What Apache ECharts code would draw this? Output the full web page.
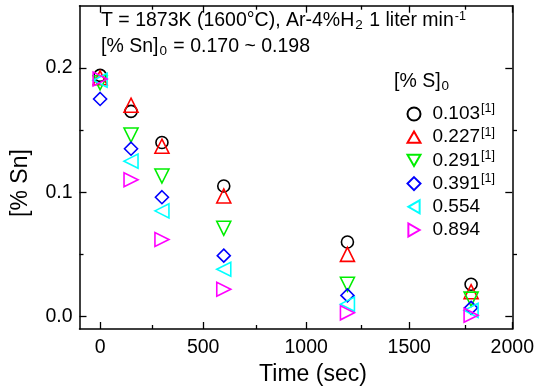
<!DOCTYPE html>
<html><head><meta charset="utf-8">
<script src="https://cdn.jsdelivr.net/npm/echarts@6/dist/echarts.min.js"></script>
<style>html,body{margin:0;padding:0;background:#fff}#c{width:537px;height:392px}</style>
</head><body><div id="c"></div>
<script>
var times = [0, 150, 300, 600, 1200, 1800];
var s0103 = [0.194, 0.165, 0.140, 0.105, 0.060, 0.026];
var s0227 = [0.192, 0.170, 0.137, 0.097, 0.050, 0.020];
var s0291 = [0.188, 0.146, 0.113, 0.071, 0.026, 0.014];
var s0391 = [0.175, 0.135, 0.096, 0.049, 0.017, 0.007];
var s0554 = [0.190, 0.125, 0.085, 0.038, 0.010, 0.005];
var s0894 = [0.191, 0.110, 0.062, 0.022, 0.003, 0.001];
var seriesNames = ['0.103', '0.227', '0.291', '0.391', '0.554', '0.894'];
var refMark = [true, true, true, true, false, false];
var xMajor = [0, 500, 1000, 1500, 2000];
var xMinor = [250, 750, 1250, 1750];
var yMajor = [0.0, 0.1, 0.2];
var yMinor = [0.05, 0.15];

var allValues = [s0103, s0227, s0291, s0391, s0554, s0894];
var colors = ['#000000', '#ff0000', '#00ee00', '#0000ff', '#00ffff', '#ff00ff'];
var symbols = ['circle', 'triangle', 'triangle', 'diamond', 'triangle', 'triangle'];
var rotates = [0, 0, 180, 0, 90, -90];
var sizes = [12, 14, 14, 13, 14, 14];
var legendIcons = ['circle', 'path://M1,0L2,1.732L0,1.732Z', 'path://M0,0L2,0L1,1.732Z', 'diamond',
  'path://M1.732,0L1.732,2L0,1Z', 'path://M0,0L0,2L1.732,1Z'];
var FONT = 'Liberation Sans';

function pairs(v) { return times.map(function (t, i) { return [t, v[i]]; }); }

var grid = { left: 79.5, top: 5.7, right: 20, bottom: 63 };
var axisLine = { show: true, onZero: false, lineStyle: { color: '#000', width: 1.5 } };

function xAx(gi, pos, major, labels) {
  return {
    type: 'value', gridIndex: gi, position: pos, min: -100, max: 2000,
    axisLine: gi === 0 ? axisLine : { show: false, onZero: false },
    splitLine: { show: false },
    axisTick: { show: true, inside: true, length: major ? 7 : 4, lineStyle: { color: '#000', width: 1.3 },
      customValues: major ? xMajor : xMinor },
    axisLabel: { show: !!labels, customValues: xMajor, color: '#000', fontFamily: FONT, fontSize: 19.5, margin: 9,
      formatter: function (v) { return String(v); } }
  };
}
function yAx(gi, pos, major, labels) {
  return {
    type: 'value', gridIndex: gi, position: pos, min: -0.01, max: 0.25,
    axisLine: gi === 0 ? axisLine : { show: false, onZero: false },
    splitLine: { show: false },
    axisTick: { show: true, inside: true, length: major ? 7 : 4, lineStyle: { color: '#000', width: 1.3 },
      customValues: major ? yMajor : yMinor },
    axisLabel: { show: !!labels, customValues: yMajor, color: '#000', fontFamily: FONT, fontSize: 19.5, margin: 7,
      formatter: function (v) { return v.toFixed(1); } }
  };
}

var series = allValues.map(function (v, i) {
  return {
    name: seriesNames[i], type: 'scatter', xAxisIndex: 0, yAxisIndex: 0,
    data: pairs(v), symbol: symbols[i], symbolRotate: rotates[i], symbolSize: sizes[i],
    itemStyle: { color: 'rgba(0,0,0,0)', borderColor: colors[i], borderWidth: 1.6, opacity: 1 },
    emphasis: { disabled: true }
  };
});

var chart = echarts.init(document.getElementById('c'), null, { renderer: 'canvas' });
chart.setOption({
  animation: false,
  backgroundColor: '#fff',
  grid: [grid, grid],
  xAxis: [xAx(0, 'bottom', true, true), xAx(0, 'top', true, false), xAx(1, 'bottom', false, false), xAx(1, 'top', false, false)],
  yAxis: [yAx(0, 'left', true, true), yAx(0, 'right', true, false), yAx(1, 'left', false, false), yAx(1, 'right', false, false)],
  legend: {
    orient: 'vertical', left: 406.5, top: 102.5, itemWidth: 13, itemHeight: 13, itemGap: 0.2, padding: 0,
    symbolRotate: 0,
    data: seriesNames.map(function (n, i) { return { name: n, icon: legendIcons[i] }; }),
    formatter: function (name) {
      var i = seriesNames.indexOf(name);
      return '{a|' + name + '}' + (refMark[i] ? '{s|[1]}' : '');
    },
    textStyle: {
      color: '#000', fontFamily: FONT, fontSize: 19, lineHeight: 23,
      rich: {
        a: { fontFamily: FONT, fontSize: 19, color: '#000', lineHeight: 23, padding: [0, 0, 0, 7] },
        s: { fontFamily: FONT, fontSize: 12.5, color: '#000', verticalAlign: 'top', lineHeight: 17, padding: [0, 0, 6, 1] }
      }
    }
  },
  graphic: [
    { type: 'text', left: 101, top: 10, style: {
      text: '{a|T = 1873K (1600°C), Ar-4%H}{b|2}{a| 1 liter min}{c|-1}',
      rich: {
        a: { fontFamily: FONT, fontSize: 19.5, fill: '#000', lineHeight: 22 },
        b: { fontFamily: FONT, fontSize: 13.5, fill: '#000', lineHeight: 22, verticalAlign: 'bottom', padding: [8, 1, 0, 1] },
        c: { fontFamily: FONT, fontSize: 12.5, fill: '#000', lineHeight: 22, verticalAlign: 'top', padding: [0, 0, 8, 1] }
      } } },
    { type: 'text', left: 101, top: 36, style: {
      text: '{a|[% Sn]}{b|0}{a| = 0.170 ~ 0.198}',
      rich: {
        a: { fontFamily: FONT, fontSize: 19.5, fill: '#000', lineHeight: 22 },
        b: { fontFamily: FONT, fontSize: 13.5, fill: '#000', lineHeight: 22, verticalAlign: 'bottom', padding: [8, 1, 0, 1] }
      } } },
    { type: 'text', left: 394, top: 71, style: {
      text: '{a|[% S]}{b|0}',
      rich: {
        a: { fontFamily: FONT, fontSize: 19.5, fill: '#000', lineHeight: 22 },
        b: { fontFamily: FONT, fontSize: 13.5, fill: '#000', lineHeight: 22, verticalAlign: 'bottom', padding: [8, 0, 0, 1] }
      } } },
    { type: 'text', x: 313, y: 375, style: {
      text: 'Time (sec)', fontFamily: FONT, fontSize: 23, fill: '#000', align: 'center', verticalAlign: 'middle' } },
    { type: 'text', x: 21, y: 183, rotation: Math.PI / 2, style: {
      text: '[% Sn]', fontFamily: FONT, fontSize: 23, fill: '#000', align: 'center', verticalAlign: 'middle' } }
  ],
  series: series
});
</script></body></html>
